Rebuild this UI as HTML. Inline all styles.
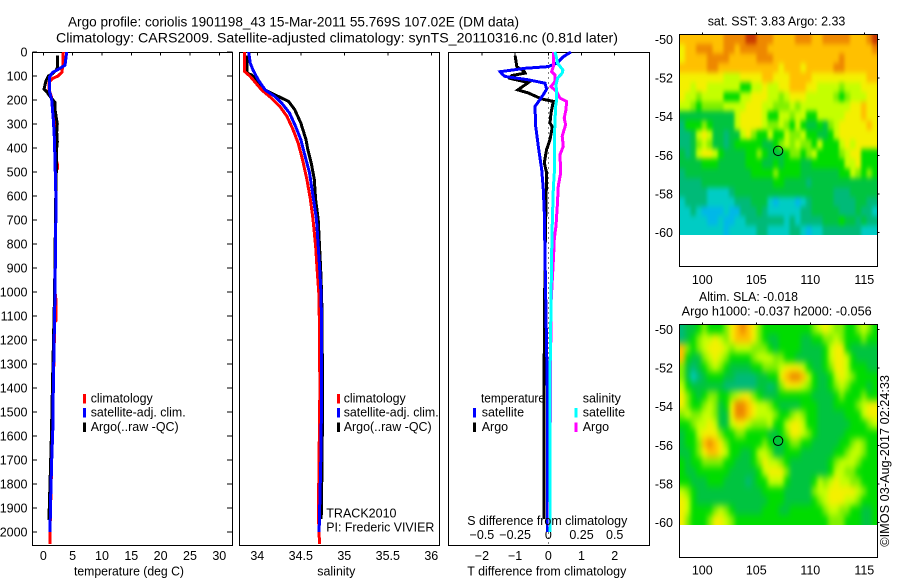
<!DOCTYPE html>
<html lang="en">
<head>
<meta charset="utf-8">
<title>Argo profile chart</title>
<style>
html,body{margin:0;padding:0;background:#fff;width:900px;height:580px;overflow:hidden}
svg{display:block}
text{font-family:"Liberation Sans",sans-serif;font-size:12.5px;fill:#000}
</style>
</head>
<body>
<svg id="chart" xmlns="http://www.w3.org/2000/svg" width="900" height="580" viewBox="0 0 900 580">
  <defs>
    <filter id="blurSST" filterUnits="userSpaceOnUse" x="640" y="0" width="260" height="280" color-interpolation-filters="sRGB"><feGaussianBlur stdDeviation="1.5 2.6"/></filter>
    <filter id="blurSLA" filterUnits="userSpaceOnUse" x="640" y="290" width="260" height="280" color-interpolation-filters="sRGB"><feGaussianBlur stdDeviation="2.4 3.8"/></filter>
    <clipPath id="clipSST"><rect x="679.5" y="34.5" width="198" height="200.5"/></clipPath>
    <clipPath id="clipSLA"><rect x="679.5" y="324.5" width="198" height="200.5"/></clipPath>
  </defs>
  <text x="68" y="26.5" style="font-size:14px" textLength="451" lengthAdjust="spacingAndGlyphs">Argo profile: coriolis 1901198_43 15-Mar-2011 55.769S 107.02E (DM data)</text>
  <text x="56" y="42.5" style="font-size:14px" textLength="562" lengthAdjust="spacingAndGlyphs">Climatology: CARS2009. Satellite-adjusted climatology: synTS_20110316.nc (0.81d later)</text>

  <g id="panelT"></g>
  <g id="panelS"></g>
  <g id="panelD"></g>
  <g id="mapSST"></g>
  <g id="mapSLA"></g>

  <text x="74" y="575.5" textLength="110" lengthAdjust="spacingAndGlyphs">temperature (deg C)</text>
  <text x="317.3" y="575.5" textLength="38" lengthAdjust="spacingAndGlyphs">salinity</text>
  <text x="467.3" y="575.5" textLength="159" lengthAdjust="spacingAndGlyphs">T difference from climatology</text>
  <text x="467.3" y="525" textLength="160" lengthAdjust="spacingAndGlyphs">S difference from climatology</text>

  <g>
    <rect x="83" y="394" width="3" height="9.5" fill="#ff0000"/>
    <text x="90.7" y="402.7" textLength="62" lengthAdjust="spacingAndGlyphs">climatology</text>
    <rect x="83" y="408" width="3" height="9.5" fill="#0000ff"/>
    <text x="90.7" y="416.7" textLength="95" lengthAdjust="spacingAndGlyphs">satellite-adj. clim.</text>
    <rect x="83" y="422.5" width="3" height="9.5" fill="#000"/>
    <text x="90.7" y="431" textLength="88" lengthAdjust="spacingAndGlyphs">Argo(..raw -QC)</text>
  </g>
  <g>
    <rect x="337" y="394" width="3" height="9.5" fill="#ff0000"/>
    <text x="343.7" y="402.7" textLength="62" lengthAdjust="spacingAndGlyphs">climatology</text>
    <rect x="337" y="408" width="3" height="9.5" fill="#0000ff"/>
    <text x="343.7" y="416.7" textLength="95" lengthAdjust="spacingAndGlyphs">satellite-adj. clim.</text>
    <rect x="337" y="422.5" width="3" height="9.5" fill="#000"/>
    <text x="343.7" y="431" textLength="88" lengthAdjust="spacingAndGlyphs">Argo(..raw -QC)</text>
  </g>
  <text x="326.3" y="517.7">TRACK2010</text>
  <text x="326.3" y="531.7" textLength="108" lengthAdjust="spacingAndGlyphs">PI: Frederic VIVIER</text>

  <g>
    <text x="481" y="402.7" textLength="64" lengthAdjust="spacingAndGlyphs">temperature</text>
    <rect x="473" y="408" width="3" height="9.5" fill="#0000ff"/>
    <text x="481.7" y="416.7">satellite</text>
    <rect x="473" y="422.5" width="3" height="9.5" fill="#000"/>
    <text x="481.7" y="431">Argo</text>
    <text x="582.7" y="402.7">salinity</text>
    <rect x="574.5" y="408" width="3" height="9.5" fill="#00ffff"/>
    <text x="582.7" y="416.7">satellite</text>
    <rect x="574.5" y="422.5" width="3" height="9.5" fill="#ff00ff"/>
    <text x="582.7" y="431">Argo</text>
  </g>

  <text x="707.7" y="25.7" textLength="137.6" lengthAdjust="spacingAndGlyphs">sat. SST: 3.83 Argo: 2.33</text>
  <text x="699" y="301" textLength="99" lengthAdjust="spacingAndGlyphs">Altim. SLA: -0.018</text>
  <text x="681.7" y="315.7" textLength="190" lengthAdjust="spacingAndGlyphs">Argo h1000: -0.037 h2000: -0.056</text>
  <text transform="translate(889,546.7) rotate(-90)" textLength="171.7" lengthAdjust="spacingAndGlyphs">©IMOS 03-Aug-2017 02:24:33</text>
</svg>

<script>
// ---------- axis tick values ----------
const depthTicks = [0,100,200,300,400,500,600,700,800,900,1000,1100,1200,1300,1400,1500,1600,1700,1800,1900,2000];
const tempTicks = [0,5,10,15,20,25,30];
const salTicks = [34,34.5,35,35.5,36];
const salTickLabels = ['34','34.5','35','35.5','36'];
const diffTTicks = [-2,-1,0,1,2];
const diffTTickLabels = ['\u22122','\u22121','0','1','2'];
const diffSTicks = [-0.5,-0.25,0,0.25,0.5];
const diffSTickLabels = ['\u22120.5','\u22120.25','0','0.25','0.5'];
const mapLonTicks = [100,105,110,115];
const mapLatTicks = [50,52,54,56,58,60];

// ---------- temperature profiles ----------
const tClimDepth = [0,62,85,100,110,125,160,187,300,450,470,485,490,620,1000,1030,1120,1125,1400,1700,2000,2050];
const tClimValue = [3.41,3.3,3.15,2.5,1.6,1.0,1.0,1.4,1.9,2.2,2.44,2.44,2.2,2.16,2.0,2.15,2.15,1.95,1.7,1.43,1.14,1.14];
const tSatDepth = [0,55,72,85,105,160,200,285,360,620,1000,1400,1550,1700,1850,2000];
const tSatValue = [3.98,3.7,2.56,1.6,1.03,1.03,1.43,1.72,1.9,2.16,2.0,1.7,1.65,1.43,1.26,1.14];
const tArgoDepth = [15,65,75,90,100,120,155,165,185,210,240,300,335,375,390,620,1000,1400,1600,1800,1950];
const tArgoValue = [2.39,2.39,2.2,1.6,0.85,0.46,0.12,0.58,1.14,2.0,2.0,2.39,2.28,2.39,2.3,2.12,1.92,1.55,1.38,1.15,0.95];

// ---------- salinity profiles ----------
const sClimDepth = [0,80,102,130,158,185,227,268,323,380,448,531,614,697,807,918,1022,1400,1850,1950,2050];
const sClimValue = [33.85,33.85,33.92,33.985,34.05,34.14,34.26,34.34,34.41,34.47,34.52,34.57,34.61,34.64,34.67,34.69,34.71,34.72,34.705,34.705,34.715];
const sSatDepth = [0,47,75,116,158,185,213,254,310,365,434,503,600,697,807,918,1022,1400,1700,2000];
const sSatValue = [33.9,33.92,33.95,34.01,34.09,34.2,34.28,34.37,34.44,34.5,34.55,34.6,34.64,34.68,34.7,34.72,34.735,34.74,34.73,34.71];
const sArgoDepth = [15,88,95,116,158,185,206,240,296,365,406,462,531,614,697,807,918,1022,1400,1700,1945];
const sArgoValue = [33.88,33.88,33.93,33.99,34.09,34.24,34.36,34.43,34.5,34.56,34.58,34.62,34.655,34.67,34.7,34.715,34.73,34.74,34.75,34.745,34.735];

// ---------- differences from climatology ----------
const dSatTDepth = [0,20,47,61,68,82,91,102,116,130,155,178,227,310,393,490,572,669,849,1400,2000];
const dSatTValue = [0.68,0.45,0.25,0,-0.7,-1.45,-1.4,-1.3,-0.6,-0.1,-0.05,-0.15,-0.4,-0.38,-0.3,-0.2,-0.15,-0.12,-0.1,-0.03,-0.02];
const dArgoTDepth = [15,61,82,88,98,110,127,158,171,196,206,254,296,312,365,406,462,503,850,1400,1945];
const dArgoTValue = [-1.0,-0.95,-0.72,-0.7,-1.1,-1.15,-0.6,-0.92,-0.6,-0.2,0.15,0.08,0.05,0.12,0.05,-0.05,-0.12,-0.05,-0.1,-0.13,-0.13];
const dSatSDepth = [0,20,47,75,88,109,137,165,199,227,365,503,572,710,849,1400,2000];
const dSatSValue = [0.05,0.06,0.07,0.11,0.105,0.07,0.058,0.063,0.063,0.055,0.045,0.045,0.038,0.03,0.025,0.012,0.012];
const dArgoSDepth = [0,61,82,95,123,144,165,192,206,240,275,303,351,393,428,503,558,641,724,779,849,1050,1980];
const dArgoSValue = [0.038,0.038,0.025,0.05,0.05,0.02,0.063,0.088,0.138,0.133,0.12,0.13,0.105,0.113,0.088,0.093,0.075,0.068,0.058,0.045,0.04,0.02,0.01];

// ---------- SST map: colour levels, one row per half degree of latitude ----------
const sstGrid = [
[8,8,8,8,8,8,8,8,9,9,9,9,10,10,9,9,9,8,8,8,8,9,9,9,8,8,9,9,9,9,9,8,8,8,9,10],
[7,8,8,9,9,9,8,8,9,9,8,9,9,9,9,9,8,8,8,8,8,8,8,8,8,8,8,8,8,8,8,8,8,8,8,9],
[7,8,8,8,8,9,9,9,9,8,8,8,8,8,9,9,9,8,8,8,8,8,8,8,8,8,8,8,8,9,8,8,8,8,8,8],
[8,8,8,8,8,9,9,8,8,8,8,8,8,8,8,8,8,8,7,8,8,8,7,8,8,8,8,8,9,9,8,8,8,8,8,8],
[7,7,7,7,7,7,7,7,6,6,6,7,7,7,7,8,8,7,7,7,8,8,8,8,7,7,7,7,7,7,7,7,7,7,8,8],
[7,7,6,7,7,6,6,6,6,6,6,4,4,6,6,7,6,6,7,7,8,8,8,7,7,6,6,6,6,5,6,6,6,7,7,7],
[7,6,6,5,6,6,6,6,4,4,4,6,6,7,7,7,6,6,5,6,7,7,7,6,6,6,6,6,5,4,5,6,6,6,7,7],
[6,6,5,4,5,5,5,5,6,6,6,6,7,7,7,6,6,5,5,5,6,5,6,6,6,6,6,6,6,6,6,7,7,8,7,7],
[3,3,3,3,3,3,3,3,3,3,6,7,7,7,7,6,4,4,6,6,5,6,6,4,4,6,6,6,6,6,7,7,7,8,7,7],
[2,4,4,4,5,4,3,3,3,3,6,7,7,7,7,6,5,5,6,5,4,6,4,3,3,4,3,5,6,7,7,7,7,7,8,7],
[2,2,3,6,7,6,3,3,2,3,3,6,7,5,4,4,6,4,4,6,5,5,6,4,4,3,3,4,6,7,7,7,7,7,7,7],
[2,2,3,5,6,5,3,3,2,3,4,4,4,4,4,3,3,4,5,6,5,6,5,5,4,6,4,4,4,6,7,6,7,7,7,7],
[3,2,3,6,7,7,6,4,3,3,3,3,4,4,5,4,3,3,3,4,5,5,4,5,6,4,4,4,4,5,6,7,7,4,4,4],
[3,3,3,3,4,4,4,3,3,3,3,3,4,4,4,3,3,4,3,4,4,4,3,3,4,4,4,4,4,4,6,6,7,4,4,4],
[2,3,3,3,3,3,3,3,3,3,3,3,3,4,4,4,4,5,4,4,4,4,3,3,3,3,3,3,3,4,4,6,5,4,5,4],
[2,2,2,2,3,3,3,3,3,3,3,3,3,3,3,3,3,4,4,3,3,3,3,2,3,3,3,3,3,3,3,3,3,3,3,3],
[2,2,2,2,2,1,1,1,1,2,3,3,3,3,3,3,3,3,3,3,3,3,3,3,3,3,3,3,2,2,2,3,3,3,3,3],
[1,2,2,2,2,1,1,1,1,1,2,2,2,3,3,3,1,0,1,1,1,0,1,2,3,3,3,3,2,2,2,2,3,3,2,2],
[1,1,2,1,0,0,0,0,1,0,0,2,2,2,3,2,1,1,1,1,1,1,2,2,3,3,3,3,3,2,2,2,3,2,2,1],
[1,1,1,1,1,0,0,1,0,0,1,1,2,2,2,2,2,2,2,1,2,1,2,2,2,2,3,3,3,4,3,3,2,3,2,2],
[1,1,1,1,1,1,1,1,0,1,1,1,1,1,2,2,1,1,1,1,2,2,1,0,1,1,2,2,2,2,2,2,2,1,1,1]
];

// ---------- SLA map: colour levels ----------
const slaGrid = [
[2,3,3,4,5,4,4,4,5,7,8,9,8,7,5,4,4,4,4,4,4,4,4,4,5,6,7,6,5,5,4,4,5,6,5,4],
[2,3,4,5,6,6,7,6,5,7,8,8,8,7,5,4,3,3,4,4,4,4,3,3,4,4,5,5,6,5,4,4,4,5,4,4],
[8,5,4,5,6,7,7,7,6,5,6,6,6,5,5,5,4,3,4,4,4,4,3,3,3,3,4,6,7,7,4,3,3,3,3,3],
[8,4,3,3,5,6,7,6,5,4,4,4,4,5,6,6,6,5,5,4,4,3,3,3,3,3,4,6,7,7,6,4,3,3,3,3],
[5,3,2,3,4,5,6,5,4,3,3,3,3,4,4,5,5,5,6,7,7,7,6,4,3,3,4,5,7,7,6,4,4,4,3,3],
[5,3,1,2,3,4,4,4,3,3,2,2,2,2,3,3,4,4,7,8,9,9,8,6,4,3,3,4,6,7,6,5,4,4,4,4],
[6,4,3,3,3,3,3,3,2,2,2,2,2,2,3,3,2,3,5,7,7,7,6,5,4,3,3,4,5,6,5,4,4,4,3,4],
[7,5,4,3,4,5,5,4,4,5,6,7,7,5,4,3,3,3,4,4,4,4,4,4,3,3,3,3,4,5,4,4,4,5,4,4],
[7,5,4,4,5,6,5,3,4,7,9,9,8,7,6,6,5,4,3,3,3,3,4,4,4,3,3,3,4,4,4,4,5,6,7,7],
[5,6,5,5,6,6,5,3,3,7,9,9,8,7,6,6,6,5,4,4,5,6,5,4,4,3,3,3,3,3,4,4,4,6,7,7],
[4,4,5,6,6,7,6,3,3,6,7,7,6,5,5,5,6,4,4,6,7,7,6,4,4,3,3,3,3,3,3,4,4,4,5,6],
[3,4,4,6,7,7,7,5,4,4,5,5,4,4,4,4,3,3,4,5,7,7,6,5,4,3,3,3,3,3,4,4,4,4,4,4],
[3,4,4,5,8,9,8,7,5,4,4,4,4,4,4,5,4,3,3,4,5,5,4,4,3,3,3,3,3,4,4,5,6,5,4,4],
[3,3,4,5,7,8,8,7,6,4,4,3,3,4,6,6,5,3,3,4,4,4,3,3,3,3,3,3,4,4,5,6,6,5,4,4],
[4,3,4,4,5,5,5,5,4,4,3,3,3,4,5,7,6,6,5,4,3,3,3,3,3,3,3,4,5,6,6,6,5,4,4,4],
[4,3,3,4,4,4,4,4,4,3,3,3,3,3,4,6,7,7,7,5,3,3,3,3,3,3,3,4,6,6,5,5,4,4,4,4],
[4,4,3,3,3,4,4,4,3,3,3,3,2,3,4,4,6,6,6,4,3,3,3,3,4,6,5,6,7,6,6,5,5,4,4,4],
[6,5,4,3,3,3,3,3,3,3,3,3,3,3,3,4,4,4,4,3,3,3,3,3,5,6,6,7,7,7,7,7,6,5,4,4],
[7,6,4,3,3,3,3,3,3,3,3,3,3,3,3,3,4,4,4,3,3,3,3,3,4,5,6,7,7,7,6,6,5,4,4,4],
[7,6,4,4,4,4,5,6,5,4,3,3,3,3,3,4,4,4,3,3,4,4,4,4,4,4,5,6,6,5,5,4,4,3,3,4],
[7,5,4,4,4,5,7,7,6,5,4,4,4,4,4,4,4,4,4,4,4,4,4,4,4,4,4,5,5,5,4,4,4,3,3,4]
];
const mapLevelColors = ['#00b8e8','#00ccc4','#00ba78','#00c440','#00dc00','#80f000','#c4ff00','#f4f000','#ffc000','#ee8800','#c83800'];
const floatLon = [107.02];
const floatLat = [55.769];

const NS = 'http://www.w3.org/2000/svg';
const yDepth = d => 52 + 0.24 * d;
const xTemp = t => 43.3 + 5.867 * t;
const xSal = s => 257.3 + 87 * (s - 34);
const xDiffT = t => 548.3 + 33.2 * t;
const xDiffS = s => 548.3 + 132.8 * s;

function make(tag, attrs, parent, txt) {
  const el = document.createElementNS(NS, tag);
  for (const k in attrs) el.setAttribute(k, attrs[k]);
  if (txt !== undefined) el.textContent = txt;
  parent.appendChild(el);
  return el;
}

function drawFrame(p, x0, y0, x1, y1) {
  const el = make('rect', {x:x0, y:y0, width:x1-x0, height:y1-y0, fill:'none', stroke:'#000', 'stroke-width':1, 'shape-rendering':'crispEdges'}, p);
  
  
}

function drawLine(p, depths, values, xf, color, name) {
  const pts = depths.map((d, i) => xf(values[i]).toFixed(1) + ',' + yDepth(d).toFixed(1)).join(' ');
  const el = make('polyline', {points:pts, fill:'none', stroke:color, 'stroke-width':3, 'stroke-linejoin':'miter', 'shape-rendering':'crispEdges'}, p);
  
  
}

function drawTopTicks(p, ticks, xf, y0) {
  ticks.forEach(t => {
    const el = make('line', {x1:xf(t), x2:xf(t), y1:y0, y2:y0+3, stroke:'#000', 'stroke-width':1, 'shape-rendering':'crispEdges'}, p);
    
    
  });
}

function drawXLabels(p, ticks, labels, xf, y) {
  ticks.forEach((t, i) => {
    const el = make('text', {x:xf(t), y:y, 'text-anchor':'middle'}, p, labels[i]);
    
    
  });
}

/* ---------- temperature panel ---------- */
const pT = document.getElementById('panelT');
drawFrame(pT, 32.5, 52.5, 232.5, 545.5);
depthTicks.forEach(d => {
  const y = yDepth(d);
  const a = make('line', {x1:32.5, x2:37, y1:y, y2:y, stroke:'#000', 'shape-rendering':'crispEdges'}, pT);
  
  
  const b = make('line', {x1:227, x2:232.5, y1:y, y2:y, stroke:'#000', 'shape-rendering':'crispEdges'}, pT);
  
  
  const l = make('text', {x:27.5, y:y+4.5, 'text-anchor':'end'}, pT, String(d));
  
  
});
drawTopTicks(pT, tempTicks, xTemp, 52.5);
drawXLabels(pT, tempTicks, tempTicks.map(String), xTemp, 560);
drawLine(pT, tClimDepth, tClimValue, xTemp, '#ff0000', 'temperature-climatology-line');
drawLine(pT, tArgoDepth, tArgoValue, xTemp, '#000000', 'temperature-argo-line');
drawLine(pT, tSatDepth, tSatValue, xTemp, '#0000ff', 'temperature-satellite-line');

/* ---------- salinity panel ---------- */
const pS = document.getElementById('panelS');
drawFrame(pS, 239.5, 52.5, 439.5, 545.5);
drawTopTicks(pS, salTicks, xSal, 52.5);
drawXLabels(pS, salTicks, salTickLabels, xSal, 560);
drawLine(pS, sArgoDepth, sArgoValue, xSal, '#000000', 'salinity-argo-line');
drawLine(pS, sClimDepth, sClimValue, xSal, '#ff0000', 'salinity-climatology-line');
drawLine(pS, sSatDepth, sSatValue, xSal, '#0000ff', 'salinity-satellite-line');

/* ---------- difference panel ---------- */
const pD = document.getElementById('panelD');
drawFrame(pD, 448.5, 52.5, 649.5, 545.5);
drawTopTicks(pD, diffTTicks, xDiffT, 52.5);
drawXLabels(pD, diffTTicks, diffTTickLabels, xDiffT, 560);
drawXLabels(pD, diffSTicks, diffSTickLabels, xDiffS, 539);
const zeroLine = make('line', {x1:xDiffT(0), x2:xDiffT(0), y1:52.5, y2:545, stroke:'#000', 'stroke-width':1, 'stroke-dasharray':'1 4', 'shape-rendering':'crispEdges'}, pD);


drawLine(pD, dArgoTDepth, dArgoTValue, xDiffT, '#000000', 't-difference-argo-line');
drawLine(pD, dSatTDepth, dSatTValue, xDiffT, '#0000ff', 't-difference-satellite-line');
drawLine(pD, dArgoSDepth, dArgoSValue, xDiffS, '#ff00ff', 's-difference-argo-line');
drawLine(pD, dSatSDepth, dSatSValue, xDiffS, '#00ffff', 's-difference-satellite-line');

/* ---------- maps ---------- */
const xLon = lon => 702.3 + (lon - 100) * 10.8;
function drawMap(group, grid, lat50Y, pxPerDeg, topY, botY, labelY, cellName, clipId, blurId) {
  const yLat = lat => lat50Y + (lat - 50) * pxPerDeg;
  const latTop = 50 + (topY - lat50Y) / pxPerDeg;
  const latStep = 0.494;
  const lonStart = 97.9;
  const lonStep = 0.5083;
  const clipGroup = make('g', {'clip-path':'url(#' + clipId + ')'}, group);
  
  
  const cells = make('g', {filter:'url(#' + blurId + ')'}, clipGroup);
  
  
  const lastR = grid.length - 1;
  grid.forEach((row, r) => {
    const lastC = row.length - 1;
    row.forEach((v, c) => {
      // edge cells bleed past the clip so the smoothing does not fade at the border
      const x0 = xLon(lonStart + c * lonStep) - (c === 0 ? 14 : 0);
      const x1 = xLon(lonStart + (c + 1) * lonStep) + (c === lastC ? 14 : 0);
      const y0 = yLat(latTop + r * latStep) - (r === 0 ? 14 : 0);
      const y1 = yLat(latTop + (r + 1) * latStep) + (r === lastR ? 14 : 0);
      const el = make('rect', {x:x0.toFixed(2), y:y0.toFixed(2), width:(x1-x0+0.4).toFixed(2), height:(y1-y0+0.4).toFixed(2), fill:mapLevelColors[v], 'shape-rendering':'crispEdges'}, cells);
      
      
    });
  });
  drawFrame(group, 679.5, topY, 877.5, botY);
  mapLonTicks.forEach(lon => {
    const x = xLon(lon);
    const t = make('line', {x1:x, x2:x, y1:topY-2, y2:topY, stroke:'#000', 'shape-rendering':'crispEdges'}, group);
    
    
    const l = make('text', {x:x, y:labelY, 'text-anchor':'middle'}, group, String(lon));
    
    
  });
  mapLatTicks.forEach(lat => {
    const y = yLat(lat);
    const t = make('line', {x1:877.5, x2:879.5, y1:y, y2:y, stroke:'#000', 'shape-rendering':'crispEdges'}, group);
    
    
    const l = make('text', {x:673, y:y+4.5, 'text-anchor':'end'}, group, '-' + lat);
    
    
  });
  const dot = make('circle', {cx:xLon(floatLon[0]), cy:yLat(floatLat[0]), r:4.7, fill:'none', stroke:'#000', 'stroke-width':1}, group);
  
  
}
drawMap(document.getElementById('mapSST'), sstGrid, 39.3, 19.34, 34.5, 266.5, 284, 'sst-cell', 'clipSST', 'blurSST');
drawMap(document.getElementById('mapSLA'), slaGrid, 329.7, 19.26, 324.5, 557.5, 574.3, 'sla-cell', 'clipSLA', 'blurSLA');
</script>
</body>
</html>
